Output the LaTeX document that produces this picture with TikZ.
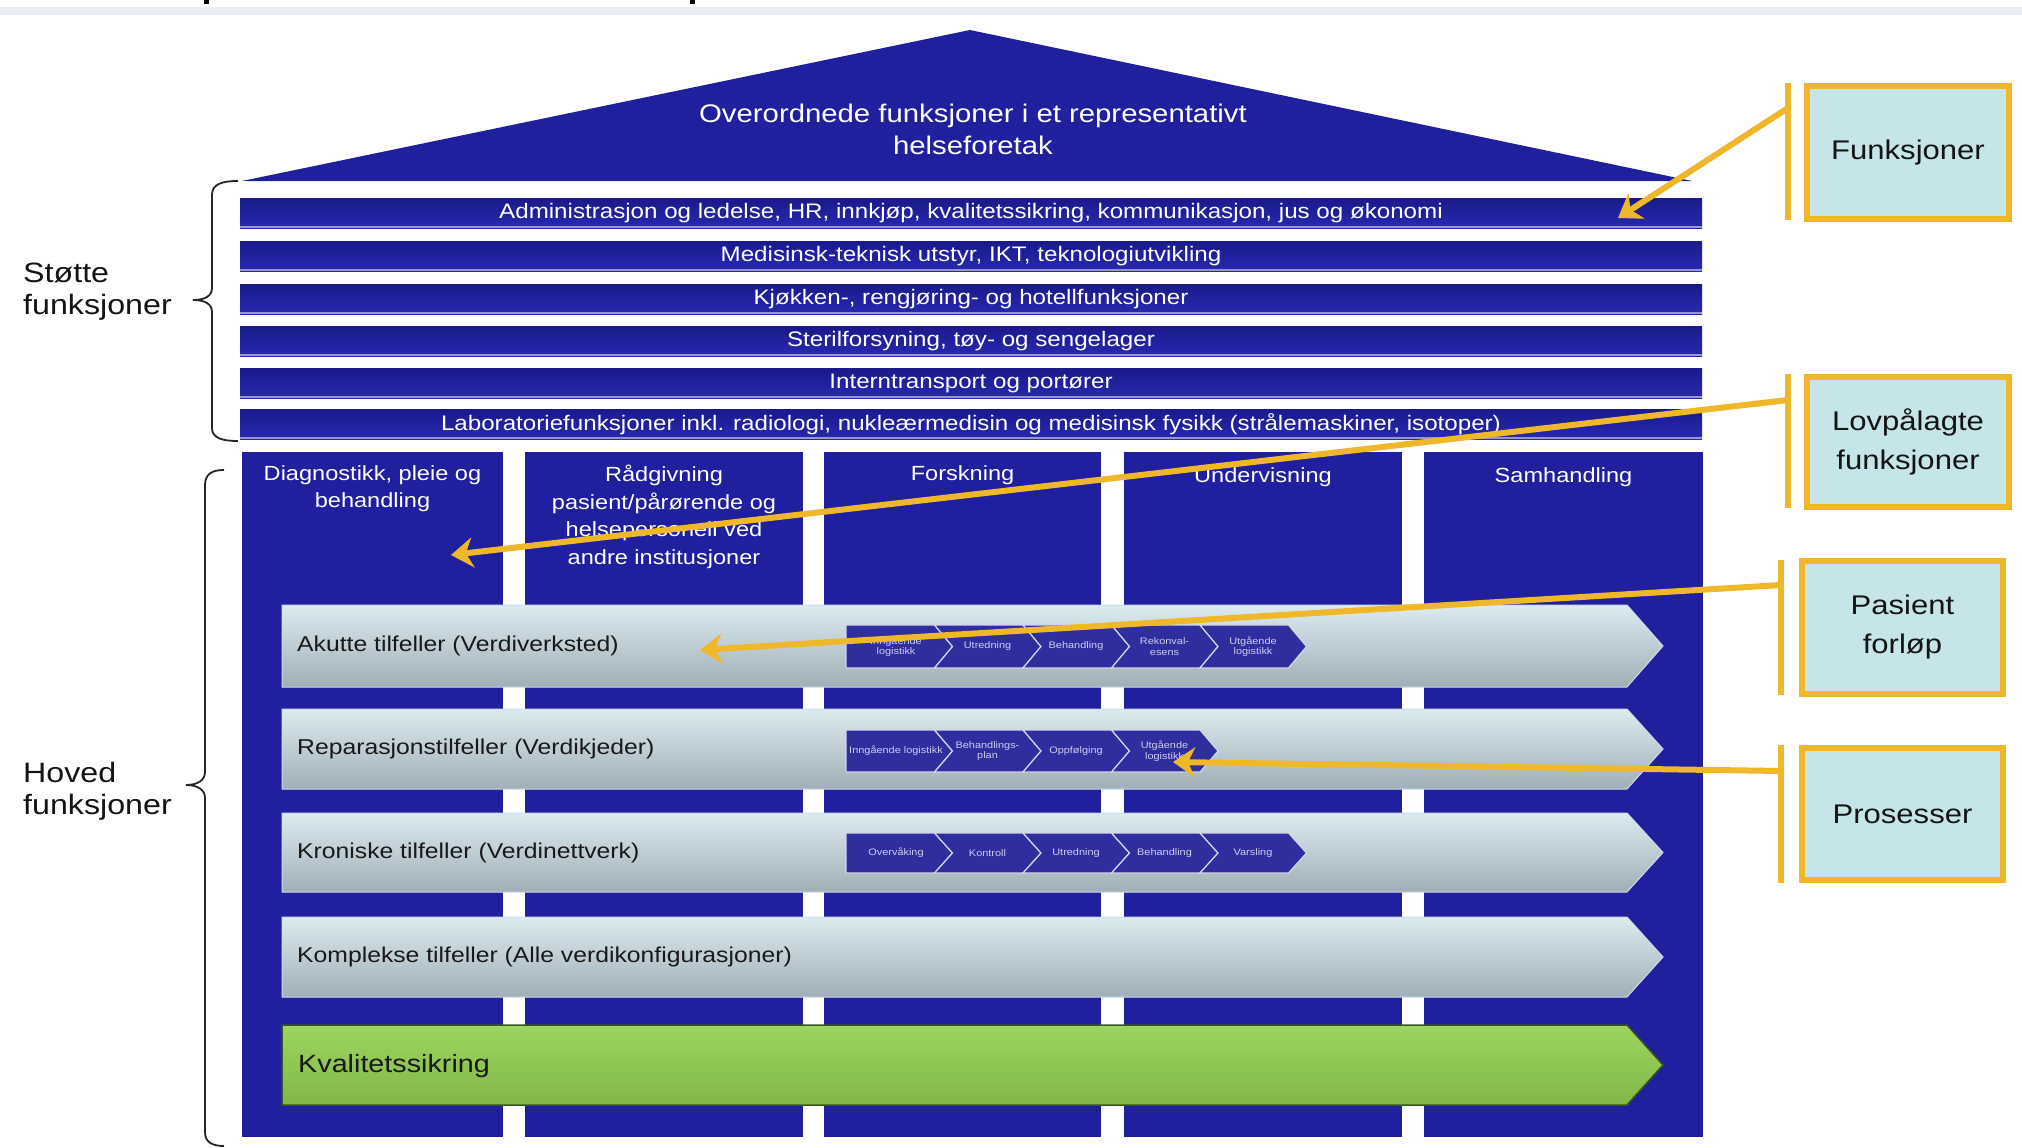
\documentclass[tikz,border=0pt]{standalone}
\usepackage{fontspec}
\setmainfont{Liberation Sans}[FakeStretch=1.15]
\usetikzlibrary{arrows.meta}
\definecolor{hblue}{RGB}{32,32,158}
\definecolor{bartop}{RGB}{26,26,138}
\definecolor{barbot}{RGB}{40,40,178}
\definecolor{hblueedge}{RGB}{150,150,205}
\definecolor{chevblue}{RGB}{46,46,158}
\definecolor{chevtxt}{RGB}{205,205,240}
\definecolor{bandtop}{RGB}{220,235,240}
\definecolor{bandbot}{RGB}{160,174,182}
\definecolor{bandedge}{RGB}{205,218,238}
\definecolor{kgreen}{RGB}{146,208,80}
\definecolor{kgreendk}{RGB}{55,85,30}
\definecolor{gold}{RGB}{238,184,42}
\definecolor{boxfill}{RGB}{198,229,233}
\definecolor{topstrip}{RGB}{232,237,246}
\definecolor{labeltxt}{RGB}{20,20,20}
\definecolor{bandtxt}{RGB}{25,25,25}
\begin{document}
\begin{tikzpicture}[x=1pt,y=-1pt,
  rooftext/.style={text=white, align=center, anchor=north, inner sep=0pt, font=\fontsize{25.5}{32}\selectfont},
  supbar/.style={top color=bartop, bottom color=barbot, minimum width=1462pt, minimum height=30pt, inner sep=0pt, text=white,
    font=\fontsize{21}{25}\selectfont,
    path picture={\fill[hblueedge] ([yshift=2.5pt]path picture bounding box.south west) rectangle (path picture bounding box.south east);}},
  housecol/.style={fill=hblue, inner sep=0pt, minimum width=#1, minimum height=685pt},
  colhead/.style={text=white, align=center, anchor=north, inner sep=0pt, font=\fontsize{20.5}{27.5}\selectfont},
  bandshape/.style={top color=bandtop, bottom color=bandbot, draw=bandedge, line width=1pt},
  greenshape/.style={top color=kgreen!90!white, bottom color=kgreen!88!black, draw=kgreendk, line width=1.5pt},
  bandlabel/.style={anchor=west, inner sep=0pt, text=bandtxt, font=\fontsize{21.5}{26}\selectfont},
  chevshape/.style={fill=chevblue, draw=white!80!chevblue, line width=1.2pt},
  chevtext/.style={text=chevtxt, align=center, inner sep=0pt, font=\fontsize{9.5}{10.5}\selectfont},
  infobox/.style={draw=gold, line width=6pt, fill=boxfill, inner sep=0pt, align=center, text=labeltxt, font=\fontsize{27}{39}\selectfont},
  goldline/.style={draw=gold, line width=6pt},
  goldarrow/.style={draw=gold, line width=6pt, -{Stealth[length=22pt,width=30pt,inset=7pt]}},
  sidelabel/.style={anchor=north west, align=left, inner sep=0pt, text=labeltxt, font=\fontsize{28}{32}\selectfont},
  bracepath/.style={draw=black!85, line width=1.8pt}
]
\useasboundingbox (0,0) rectangle (2022,1148);
\fill[white] (0,0) rectangle (2022,1148);
% top strip
\fill[topstrip] (0,7) rectangle (2022,15);
\fill[black] (204,0) rectangle (209,4);
\fill[black] (690,0) rectangle (695,4);

% roof
\fill[hblue] (242,181) -- (970,30) -- (1692,181) -- cycle;
\node[rooftext] (roof) at (973,104) {Overordnede funksjoner i et representativt\\helseforetak};

% support bars
\node[supbar] (b1) at (971,213) {Administrasjon og ledelse, HR, innkjøp, kvalitetssikring, kommunikasjon, jus og økonomi};
\node[supbar] (b2) at (971,256) {Medisinsk-teknisk utstyr, IKT, teknologiutvikling};
\node[supbar] (b3) at (971,299) {Kjøkken-, rengjøring- og hotellfunksjoner};
\node[supbar] (b4) at (971,341) {Sterilforsyning, tøy- og sengelager};
\node[supbar] (b5) at (971,383) {Interntransport og portører};
\node[supbar] (b6) at (971,424) {Laboratoriefunksjoner inkl. radiologi, nukleærmedisin og medisinsk fysikk (strålemaskiner, isotoper)};

% columns
\node[housecol=261pt] (c1) at (372.5,794.5) {};
\node[housecol=278pt] (c2) at (664,794.5) {};
\node[housecol=277pt] (c3) at (962.5,794.5) {};
\node[housecol=278pt] (c4) at (1263,794.5) {};
\node[housecol=279pt] (c5) at (1563.5,794.5) {};
\node[colhead] (h1) at (372.5,465) {Diagnostikk, pleie og\\behandling};
\node[colhead] (h2) at (664,465) {Rådgivning\\pasient/pårørende og\\helsepersonell ved\\andre institusjoner};
\node[colhead] (h3) at (962.5,465) {Forskning};
\node[colhead] (h4) at (1263,467) {Undervisning};
\node[colhead] (h5) at (1563.5,467) {Samhandling};

% process bands
\shade[bandshape] (282,605) -- (1627,605) -- (1663,646) -- (1627,687) -- (282,687) -- cycle;
\shade[bandshape] (282,709) -- (1627,709) -- (1663,749) -- (1627,789) -- (282,789) -- cycle;
\shade[bandshape] (282,813) -- (1627,813) -- (1663,852.5) -- (1627,892) -- (282,892) -- cycle;
\shade[bandshape] (282,917) -- (1627,917) -- (1663,957) -- (1627,997) -- (282,997) -- cycle;
\shade[greenshape] (282,1025) -- (1627,1025) -- (1663,1065) -- (1627,1105) -- (282,1105) -- cycle;
\node[bandlabel] (akutt) at (297,646) {Akutte tilfeller (Verdiverksted)};
\node[bandlabel] (repar) at (297,749) {Reparasjonstilfeller (Verdikjeder)};
\node[bandlabel] (kron) at (297,852.5) {Kroniske tilfeller (Verdinettverk)};
\node[bandlabel] (kompl) at (297,957) {Komplekse tilfeller (Alle verdikonfigurasjoner)};
\node[bandlabel, font=\fontsize{25}{30}\selectfont] (kval) at (298,1066) {Kvalitetssikring};

% chevrons
\newcommand\chevrow[4]{% #1 row id, #2 top, #3 bottom, #4 list
  \foreach \k/\t in {#4} {
    \pgfmathsetmacro\cL{846+88.5*\k}
    \pgfmathsetmacro\cR{\cL+88.5}
    \pgfmathsetmacro\cN{\cL+(\k>0)*18}
    \pgfmathsetmacro\cM{(#2+#3)/2}
    \pgfmathsetmacro\cT{\cL+50+(\k>0)*3}
    \path[chevshape] (\cL,#2) -- (\cR,#2) -- (\cR+18,\cM) -- (\cR,#3) -- (\cL,#3) -- (\cN,\cM) -- cycle;
    \node[chevtext] (#1c\k) at (\cT,\cM) {\t};
  }
}
\chevrow{ra}{625}{668}{0/{Inngående\\logistikk},1/{Utredning},2/{Behandling},3/{Rekonval-\\esens},4/{Utgående\\logistikk}}
\chevrow{rb}{730}{772}{0/{Inngående logistikk},1/{Behandlings-\\plan},2/{Oppfølging},3/{Utgående\\logistikk}}
\chevrow{rc}{833}{873}{0/{Overvåking},1/{Kontroll},2/{Utredning},3/{Behandling},4/{Varsling}}

% braces and side labels
\path[bracepath] (238,181) .. controls (222,181) and (212,184) .. (212,195) -- (212,288)
  .. controls (212,296) and (205,300) .. (193,300) .. controls (205,300) and (212,304) .. (212,312)
  -- (212,428) .. controls (212,438) and (222,441) .. (238,441);
\path[bracepath] (224,470) .. controls (212,470) and (205,474) .. (205,485) -- (205,772)
  .. controls (205,780) and (198,785) .. (186,785) .. controls (198,785) and (205,790) .. (205,798)
  -- (205,1132) .. controls (205,1142) and (212,1146) .. (224,1146);
\node[sidelabel] (stotte) at (23,263) {Støtte\\funksjoner};
\node[sidelabel] (hoved) at (23,762) {Hoved\\funksjoner};

% annotation boxes
\node[infobox, minimum width=202pt, minimum height=133pt] (fbox) at (1908,152.5) {Funksjoner};
\node[infobox, minimum width=202pt, minimum height=130pt] (lbox) at (1908,442) {Lovpålagte\\funksjoner};
\node[infobox, minimum width=201pt, minimum height=133pt] (pbox) at (1902.5,627.5) {Pasient\\forløp};
\node[infobox, minimum width=201pt, minimum height=132pt] (prbox) at (1902.5,814) {Prosesser};

% yellow bars beside boxes
\draw[goldline] (1788,83) -- (1788,220);
\draw[goldline] (1788,374) -- (1788,508);
\draw[goldline] (1781,560) -- (1781,695);
\draw[goldline] (1781,745) -- (1781,883);

% arrows
\coordinate (fa) at (1788,108);
\coordinate (fb) at (1618,218);
\coordinate (la) at (1788,400);
\coordinate (lb) at (451,555);
\coordinate (pa) at (1781,585);
\coordinate (pb) at (700,650);
\coordinate (sa) at (1781,771);
\coordinate (sb) at (1173,762);
\draw[goldarrow] (fa) -- (fb);
\draw[goldarrow] (la) -- (lb);
\draw[goldarrow] (pa) -- (pb);
\draw[goldarrow] (sa) -- (sb);
\end{tikzpicture}
\end{document}
